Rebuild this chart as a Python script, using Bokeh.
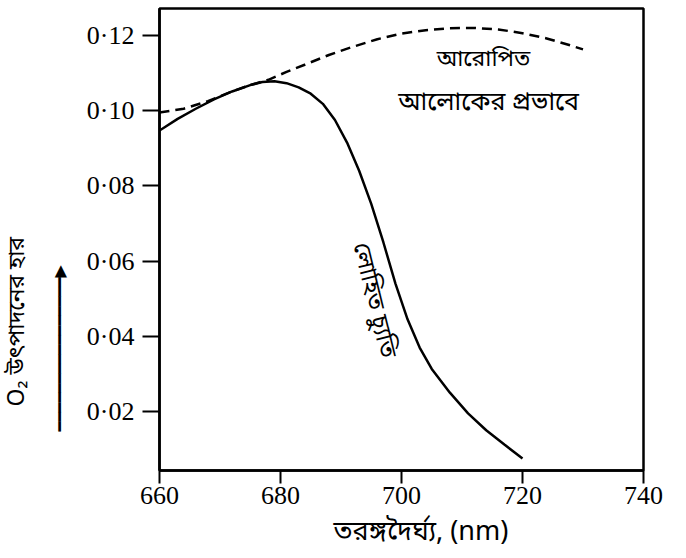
from bokeh.plotting import figure
from bokeh.models import (Range1d, FixedTicker, CustomJSTickFormatter, Label,
                          ColumnDataSource, Title)
from bokeh.embed import file_html
from bokeh.resources import INLINE

# ---- data ----
wl_red_drop = [660, 663, 666, 669, 672, 675, 677, 679, 681, 683, 685, 687, 689,
               691, 693, 695, 697, 699, 701, 703, 705, 708, 711, 714, 717, 720]
rate_red_drop = [0.0947, 0.0978, 0.1005, 0.1030, 0.1051, 0.1068, 0.1076, 0.1078,
                 0.1073, 0.1062, 0.1045, 0.1018, 0.0975, 0.0915, 0.0840, 0.0752,
                 0.0650, 0.0540, 0.0445, 0.0370, 0.0313, 0.0250, 0.0195, 0.0150,
                 0.0112, 0.0075]

wl_enhanced = [660, 664, 668, 672, 675, 678, 681, 684, 688, 692, 696, 700, 704,
               708, 712, 716, 720, 724, 727, 730]
rate_enhanced = [0.0995, 0.1005, 0.1025, 0.1051, 0.1068, 0.1082, 0.1103, 0.1122,
                 0.1148, 0.1170, 0.1190, 0.1205, 0.1214, 0.1219, 0.1220, 0.1216,
                 0.1206, 0.1192, 0.1178, 0.1163]

x_ticks = [660, 680, 700, 720, 740]
y_ticks = [0.02, 0.04, 0.06, 0.08, 0.10, 0.12]

label_red_drop = "লোহিত চ্যুতি"
label_enh_1 = "আরোপিত"
label_enh_2 = "আলোকের প্রভাবে"
x_title = "তরঙ্গদৈর্ঘ্য, (nm)"
y_title = "O₂ উৎপাদনের হার"
y_arrow = "━" * 16 + "▶"

BN_FONT = "Noto Sans Bengali, Noto Sans, sans-serif"
NUM_FONT = "Liberation Serif"

p = figure(width=680, height=557, output_backend="svg", toolbar_location=None,
           x_range=Range1d(660, 740), y_range=Range1d(0.0043, 0.12716),
           min_border_left=159, min_border_right=37, min_border_top=8,
           min_border_bottom=86)
p.xgrid.visible = False
p.ygrid.visible = False
p.outline_line_color = "black"
p.outline_line_width = 2.5
p.outline_line_alpha = 1.0
p.background_fill_color = "white"
p.border_fill_color = "white"

fmt = CustomJSTickFormatter(code="return tick.toFixed(2).replace('.', '\u00b7');")
p.yaxis.ticker = FixedTicker(ticks=y_ticks)
p.yaxis.formatter = fmt
p.xaxis.ticker = FixedTicker(ticks=x_ticks)

for ax in (p.xaxis[0], p.yaxis[0]):
    ax.axis_line_width = 2.5
    ax.axis_line_color = "black"
    ax.major_tick_line_width = 2
    ax.major_tick_line_color = "black"
    ax.major_tick_in = 0
    ax.minor_tick_line_color = None
    ax.major_label_text_font = NUM_FONT
    ax.major_label_text_font_size = "26px"
    ax.major_label_text_color = "black"

p.yaxis.major_tick_out = 17
p.yaxis.major_label_standoff = 8
p.xaxis.major_tick_out = 13
p.xaxis.major_label_standoff = 3

src_red = ColumnDataSource(dict(x=wl_red_drop, y=rate_red_drop))
src_enh = ColumnDataSource(dict(x=wl_enhanced, y=rate_enhanced))
p.line("x", "y", source=src_red, line_color="black", line_width=2.5)
p.line("x", "y", source=src_enh, line_color="black", line_width=2.5,
       line_dash="10 6")

# annotations inside the frame
p.add_layout(Label(x=713.55, y=0.1135, text=label_enh_1, text_font=BN_FONT,
                   text_font_size="23px", text_align="center",
                   text_baseline="middle", text_color="black"))
p.add_layout(Label(x=714.4, y=0.10196, text=label_enh_2, text_font=BN_FONT,
                   text_font_size="25px", text_align="center",
                   text_baseline="middle", text_color="black"))
p.add_layout(Label(x=695.3, y=0.0495, text=label_red_drop, text_font=BN_FONT,
                   text_font_size="24px", text_align="center",
                   text_baseline="middle", angle=-1.33, text_color="black"))

# axis titles as side-panel titles
p.add_layout(Title(text=x_title, align="left", offset=174, standoff=13,
                   text_font=BN_FONT, text_font_size="27px",
                   text_font_style="normal", text_color="black"), "below")
p.add_layout(Title(text=y_arrow, align="left", offset=39, standoff=30,
                   text_font="DejaVu Sans", text_font_size="16px",
                   text_font_style="normal", text_color="black"), "left")
p.add_layout(Title(text=y_title, align="left", offset=64, standoff=-1,
                   text_font=BN_FONT, text_font_size="23px",
                   text_font_style="normal", text_color="black"), "left")

open("out.html", "w").write(file_html(p, INLINE))
